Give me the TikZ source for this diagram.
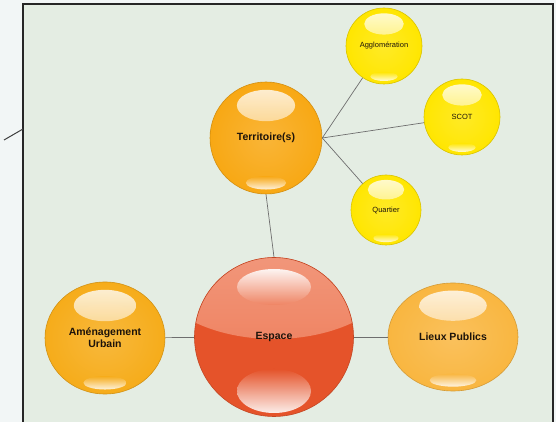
\documentclass[tikz,border=0pt]{standalone}
\usepackage{fontspec}
\setmainfont{Liberation Sans}
\usetikzlibrary{shapes.geometric}
\definecolor{fond}{HTML}{E4EDE3}
\definecolor{marge}{HTML}{F2F6F6}
\definecolor{orangeT}{HTML}{F8A814}
\definecolor{orangeA}{HTML}{F6AC1A}
\definecolor{orangeL}{HTML}{F9B640}
\definecolor{jaune}{HTML}{FFE600}
\definecolor{rougeB}{HTML}{E5532A}
\definecolor{rougeC}{HTML}{EF8463}
\definecolor{trait}{HTML}{6E6E6E}
\newcommand{\reflets}[3]{%
  \shade[top color=white, bottom color=#3, opacity=0.85]
    ([yshift=0.58*#2pt]path picture bounding box.center)
    ellipse [x radius=0.52*#1pt, y radius=0.28*#2pt];
  \shade[top color=#3, bottom color=white, opacity=0.85]
    ([yshift=-0.8*#2pt]path picture bounding box.center)
    ellipse [x radius=0.36*#1pt, y radius=0.12*#2pt];
}
\tikzset{
  bulle/.style n args={3}{
    ellipse, inner sep=0pt,
    minimum width=2*#1pt, minimum height=2*#2pt,
    draw=#3!85!black, line width=0.6pt,
    inner color=#3!85!white, outer color=#3,
    text=black!85!brown, align=center,
    path picture={\reflets{#1}{#2}{#3}}
  },
  grand/.style={font=\bfseries\fontsize{10.5}{12}\selectfont},
  petit/.style={font=\fontsize{7.5}{9}\selectfont},
  lien/.style={draw=trait, line width=0.7pt}
}
\begin{document}
\begin{tikzpicture}[x=1pt, y=1pt]
  \useasboundingbox (0,0) rectangle (556,422);
  \fill[marge] (0,0) rectangle (556,422);
  \fill[fond] (23,0) rectangle (553,418);
  \draw[line width=1.2pt, black!85] (23,-5) -- (23,418) -- (553,418) -- (553,-5);
  \draw[line width=1pt, black!75] (4,282) -- (23,293);

  \node [bulle={56}{56}{orangeT}, grand] (Terr) at (266,284) {Territoire(s)};
  \node [bulle={38}{38}{jaune}, petit] (Agglo) at (384,376) {Agglomération};
  \node [bulle={38}{38}{jaune}, petit] (Scot) at (462,305) {SCOT};
  \node [bulle={35}{35}{jaune}, petit] (Quart) at (386,212) {Quartier};
  \node [bulle={60}{56}{orangeA}, grand] (Amen) at (105,84) {Aménagement\\Urbain};
  \node [bulle={65}{54}{orangeL}, grand] (Lieux) at (453,85) {Lieux Publics};
  \node [ellipse, inner sep=0pt, minimum size=159pt, grand,
    draw=rougeB!85!black, line width=0.6pt, fill=rougeB, text=black!85!brown,
    path picture={
      \coordinate (E) at (path picture bounding box.center);
      \shade[top color=rougeC!85!white, bottom color=rougeC]
        ([xshift=-82pt,yshift=16pt]E) .. controls ([xshift=-35pt,yshift=-8pt]E)
        and ([xshift=35pt,yshift=-8pt]E) .. ([xshift=82pt,yshift=16pt]E)
        -- ([xshift=82pt,yshift=82pt]E) -- ([xshift=-82pt,yshift=82pt]E) -- cycle;
      \shade[top color=white, bottom color=rougeC, opacity=0.9]
        ([yshift=50pt]E) ellipse [x radius=37pt, y radius=18pt];
      \shade[top color=rougeB, bottom color=white, opacity=0.9]
        ([yshift=-54pt]E) ellipse [x radius=37pt, y radius=22pt];
    }] (Esp) at (274,85) {Espace};

  \draw [lien] (Terr.south) -- (Esp.north);
  \draw [lien] (Amen) -- (Esp);
  \draw [lien] (Esp) -- (Lieux);
  \draw [lien] (Terr.east) -- (Agglo);
  \draw [lien] (Terr.east) -- (Scot);
  \draw [lien] (Terr.east) -- (Quart);
\end{tikzpicture}
\end{document}
